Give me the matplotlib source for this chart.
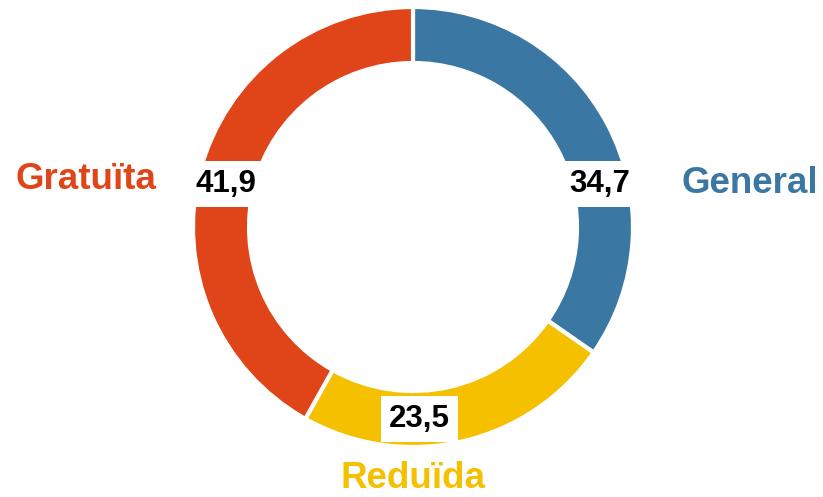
import numpy as np
from matplotlib import pyplot as plt

plt.rcParams["font.family"] = ["Liberation Sans", "DejaVu Sans"]

# Data
categories = ["General", "Reduïda", "Gratuïta"]
values = [34.7, 23.5, 41.9]
value_labels = ["34,7", "23,5", "41,9"]
colors = ["#3a77a3", "#f5c000", "#e04419"]

# where the value boxes sit on the ring (degrees clockwise from top)
label_angles = [77, 178, -77]

fig = plt.figure(figsize=(8.23, 4.97), dpi=100)
ax = fig.add_axes([0, 0, 1, 1])

cx, cy = 413, 227
r_out = 220
ring = 56

# y axis is flipped below, so start at -90 and go "counterclock" to get clockwise from the top
ax.pie(
    values,
    colors=colors,
    center=(cx, cy),
    radius=r_out,
    startangle=-90,
    counterclock=True,
    wedgeprops=dict(width=ring, edgecolor="white", linewidth=3),
    frame=True,
)
ax.set_xlim(0, 823)
ax.set_ylim(497, 0)
ax.set_aspect("equal")
ax.axis("off")

# Value boxes
r_mid = r_out - ring / 2
for label, ang in zip(value_labels, label_angles):
    a = np.deg2rad(ang)
    x = cx + r_mid * np.sin(a)
    y = cy - r_mid * np.cos(a)
    ax.text(x, y, label, ha="center", va="center", fontsize=22.5, fontweight="bold",
            color="black",
            bbox=dict(boxstyle="square,pad=0.25", facecolor="white", edgecolor="none"))

# Category labels
ax.text(750, 193, categories[0], ha="center", va="baseline", fontsize=26.5,
        fontweight="bold", color=colors[0])
ax.text(413.5, 488, categories[1], ha="center", va="baseline", fontsize=26.5,
        fontweight="bold", color=colors[1])
ax.text(85.5, 189, categories[2], ha="center", va="baseline", fontsize=26.5,
        fontweight="bold", color=colors[2])

fig.savefig("out.png", dpi=100)
